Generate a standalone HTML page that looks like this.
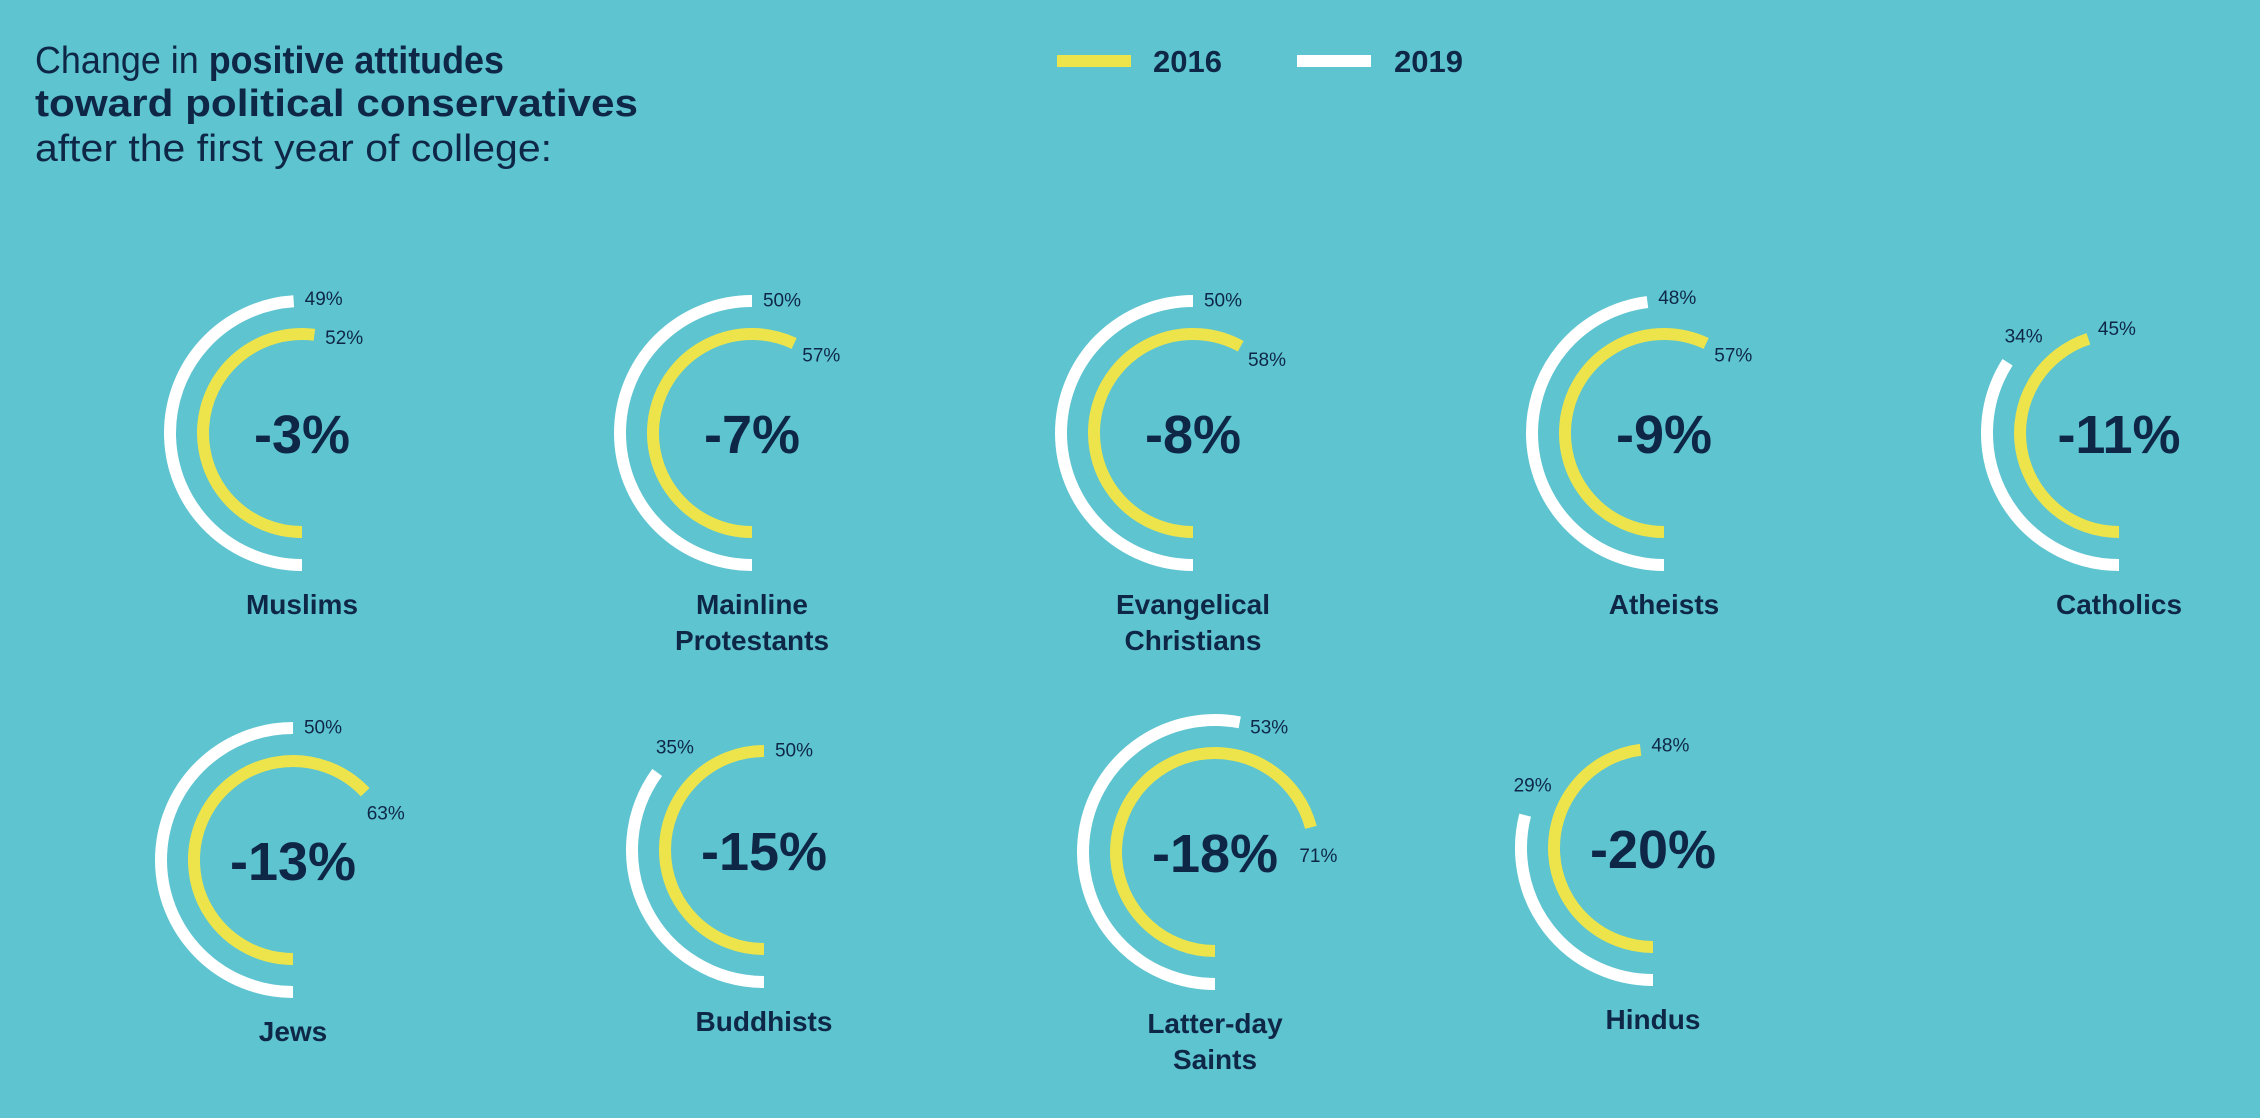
<!DOCTYPE html>
<html><head><meta charset="utf-8"><style>
html,body{margin:0;padding:0;background:#5dc4d0;}
svg{display:block;font-family:"Liberation Sans",sans-serif;}
</style></head><body>
<svg id="chart" width="2260" height="1118" viewBox="0 0 2260 1118">
<rect width="2260" height="1118" fill="#5dc4d0"/>
<g fill="#0f2747" font-size="38">
<text x="35" y="73" textLength="469" lengthAdjust="spacingAndGlyphs">Change in <tspan font-weight="bold">positive attitudes</tspan></text>
<text x="35" y="116" font-weight="bold" textLength="603" lengthAdjust="spacingAndGlyphs">toward political conservatives</text>
<text x="35" y="161" textLength="517" lengthAdjust="spacingAndGlyphs">after the first year of college:</text>
</g>
<g fill="#0f2747" font-size="31" font-weight="bold">
<rect x="1057" y="55" width="74" height="12" fill="#ede44b"/>
<text x="1153" y="72">2016</text>
<rect x="1297" y="55" width="74" height="12" fill="#ffffff"/>
<text x="1394" y="72">2019</text>
</g>
<g id="gauges"></g>
</svg>
<script>
const groups = ["Muslims","Mainline|Protestants","Evangelical|Christians","Atheists","Catholics","Jews","Buddhists","Latter-day|Saints","Hindus"];
const values2016 = [52,57,58,57,45,63,50,71,48];
const values2019 = [49,50,50,48,34,50,35,53,29];
const changes = [-3,-7,-8,-9,-11,-13,-15,-18,-20];

const layout = [[302,433],[752,433],[1193,433],[1664,433],[2119,433],[293,860],[764,850],[1215,852],[1653,848]];
const R_OUT = 132, R_IN = 99, SW = 12;
const NS = "http://www.w3.org/2000/svg";
const root = document.getElementById('gauges');

function pt(cx, cy, r, pct){
  const a = pct/100*2*Math.PI;
  return [cx - r*Math.sin(a), cy + r*Math.cos(a)];
}
function arcPath(cx, cy, r, pct){
  const p = Math.min(pct, 99.99);
  const s = pt(cx,cy,r,0), e = pt(cx,cy,r,p);
  const large = p > 50 ? 1 : 0;
  return `M${s[0]},${s[1]} A${r},${r} 0 ${large} 1 ${e[0]},${e[1]}`;
}
function mk(tag, attrs){
  const el = document.createElementNS(NS, tag);
  for (const k in attrs) el.setAttribute(k, attrs[k]);
  return el;
}
function valueLabel(g, cx, cy, r, pct, name){
  const e = pt(cx,cy,r,pct);
  const a = pct/100*2*Math.PI;
  const tx = -Math.cos(a), ty = -Math.sin(a);
  const t = mk('text', {x: e[0]+tx*30, y: e[1]+ty*30, 'text-anchor':'middle', 'dominant-baseline':'central', 'font-size':'19', fill:'#0f2747'});
  
  
  t.textContent = pct + '%';
  g.appendChild(t);
}

groups.forEach((name, i) => {
  const [cx, cy] = layout[i];
  const slug = name.replace('|',' ').toLowerCase().replace(/[^a-z]+/g,'-');
  const g = mk('g', {});
  
  

  const w = mk('path', {d: arcPath(cx,cy,R_OUT,values2019[i]), fill:'none', stroke:'#ffffff', 'stroke-width':SW});
  
  
  g.appendChild(w);

  const y = mk('path', {d: arcPath(cx,cy,R_IN,values2016[i]), fill:'none', stroke:'#ede44b', 'stroke-width':SW});
  
  
  g.appendChild(y);

  valueLabel(g, cx, cy, R_OUT, values2019[i], 'value-2019-' + slug);
  valueLabel(g, cx, cy, R_IN, values2016[i], 'value-2016-' + slug);

  const diff = changes[i];
  const c = mk('text', {x: cx, y: cy+20, 'text-anchor':'middle', 'font-size':'54', 'font-weight':'bold', fill:'#0f2747'});
  
  
  c.textContent = (diff > 0 ? '+' : '') + diff + '%';
  g.appendChild(c);

  name.split('|').forEach((line, j) => {
    const l = mk('text', {x: cx, y: cy+181+j*36, 'text-anchor':'middle', 'font-size':'28', 'font-weight':'bold', fill:'#0f2747'});
    
    
    l.textContent = line;
    g.appendChild(l);
  });
  root.appendChild(g);
});
</script>
</body></html>
